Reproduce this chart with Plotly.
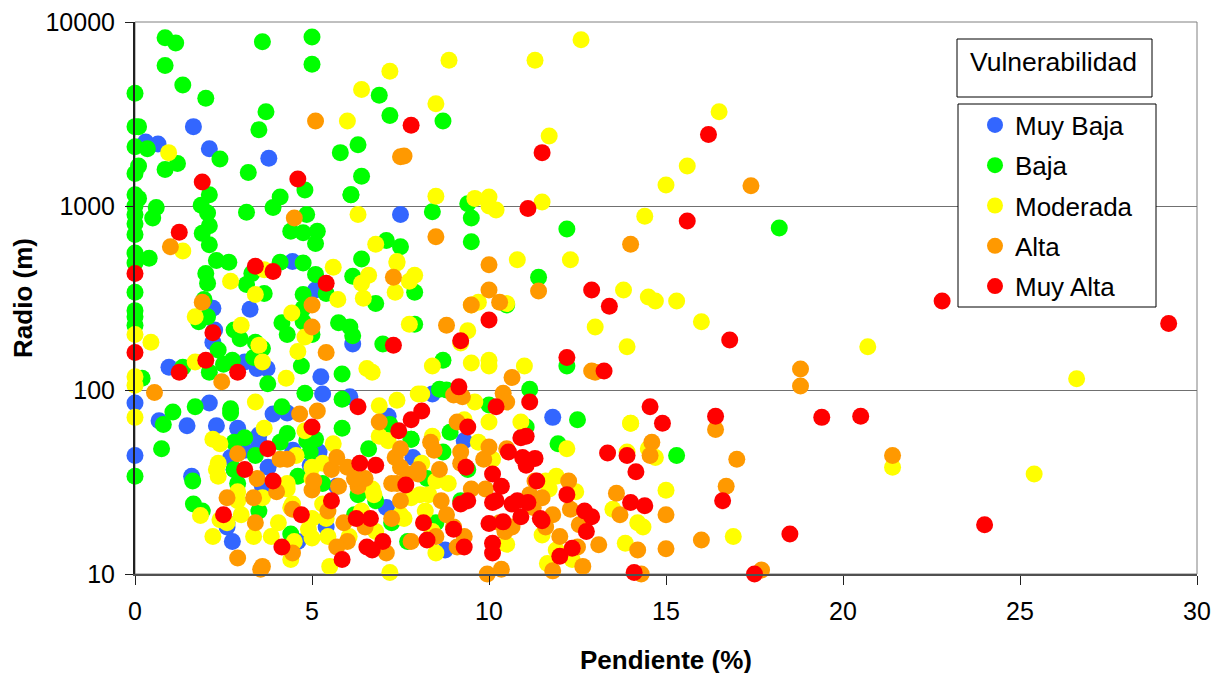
import plotly.graph_objects as go

muy_baja_x = [0.3,0.65,1.65,2.1,3.78,7.5,0,0,0.68,1.47,2.1,1.6,2.3,2.9,3.9,4.3,5.25,5.3,6.07,7.15,3.5,3.5,2.7,3.1,2.8,3.6,3.76,4.46,5.2,4.95,5.7,2.6,2.75,2.6,4.6,5.4,7.1,7.85,8.4,9.3,11.8,8.76,4.45,5.1,6.15,3.25,2.2,2.25,2.2,0.96,3.1,3.45,3.73]
muy_baja_y = [2230,2170,2700,2050,1820,900,85,44,68,64,85,34,64,62,74,75,118,95,92,72,57,52,43,47,37,30,38,47,46,39,30,18,15,19,15,18,23,43,95,53,71,13.5,500,350,178,275,278,212,182,133,142,131,131]

baja_x = [0.85,1.15,0.85,1.35,0,2,0,0.1,0,0.35,3.6,5,5,3.7,3.5,6.9,7.2,8.7,5.8,6.3,6.4,6.1,3.2,2.4,1.2,0.85,0.1,0,0,0.1,0,0,0,0,0,0.6,0.5,1.87,2.05,2.1,1.9,2.1,2.1,3.15,4.1,3.9,4.8,4.85,6.1,4.4,4.75,5.15,5.1,7.1,7.5,6.4,6.15,2,2.05,3.15,3.3,4.1,3.65,4.75,5.1,5.4,4.75,1.95,1.8,2.05,6.8,7.9,5.75,6.07,6.15,4.15,4.3,5,4.75,4.75,2.8,2.97,3.4,3.6,7,7.9,2.35,1.35,2.1,2.75,2.5,4.7,5.85,3.35,3.75,0.2,4.8,0,0.4,0,0,0,0,2.3,2.65,9.5,9.4,9.5,8.4,10.5,11.4,12.2,18.2,12.2,12.5,15.3,11.95,11.15,8.7,8.8,8.6,1.07,1.7,2.7,2.7,0.8,0.75,0,1.63,1.65,1.9,4.15,5.85,5.85,2.8,3.1,3.4,4.3,4.1,4.85,5.1,4.95,4.6,2.8,2.9,3.5,6.6,5.3,6.3,6.8,7.8,7.2,4.4,6.2,7.25,7.7,10,7.8,8.9,8.7,8.25,8.5,9.2,9.4,11.05]
baja_y = [8200,7700,5800,4550,4100,3850,2700,2700,2100,2050,7800,8300,5900,3250,2600,4000,3100,2900,1950,2150,1450,1150,1520,1800,1700,1580,1650,1500,1150,1100,1000,900,800,700,555,980,860,1010,915,780,710,615,1150,925,1120,980,1220,900,1150,730,715,730,625,650,600,515,415,430,380,375,430,495,335,490,425,335,330,310,235,250,295,340,232,220,197,232,200,200,235,278,212,190,182,168,178,228,165,133,125,145,138,135,122,150,108,116,96,490,520,340,270,250,225,505,495,640,1030,860,930,290,410,750,760,135,69,44,51,101,145,100,101,76,81,79,75,65,48,34,32,24,22,81,89,62,52,55,44,58,52,53,54,46,34,37,31,22,48,31,27,25,54,65,16.5,21,19,15,83,54,59,46,33,19,25,37,63]

moderada_x = [12.6,11.3,7.2,8.87,6.4,6,8.5,16.5,11.7,15.6,15,0.95,11.5,8.5,9.6,10,10,10.2,14.4,6.3,12.3,10.8,6.8,7.4,5.6,6.6,6.4,7.4,7.35,7.9,7.75,3.65,3.4,5.73,6.45,1.7,4.43,4.8,3,3.5,3.6,1.7,0,0.45,4.6,4.27,6.55,6.7,7.75,1.35,2.7,10.5,9.4,9.2,8.4,9.5,10,10,11,9.5,9.7,13,13.8,13.9,14.5,14.7,15.3,16,20.7,26.6,21.4,25.4,14,14.5,15,16.9,14.2,13.85,13.5,12.2,11.9,12.45,0,0,0,3.4,6.9,7.4,2.2,2.4,2.35,2.3,2.35,2.9,2.9,3.6,3,2.4,2.6,1.85,2.2,3.35,3.85,4.05,4.4,4.45,4.3,4.3,4.55,4.8,5,5.3,5,5.6,5.3,5,4.9,4.5,5,5.45,5.4,4.4,5.5,7.2,6.7,6.75,6.05,6.8,6.4,6.9,7.15,7.5,7.8,8,8.1,9.6,10,10.9,14,8.4,9.3,9.7,10.1,14.7,13.9,8.1,8.5,8.85,8.05,8.3,7.6,8.2,8.4,8.5,10.5,11.5,11.6,11.7,11.9,11.65,12.35,14.35,3.65]
moderada_y = [8000,6200,5400,6200,4300,2900,3600,3250,2400,1650,1300,1950,1050,1130,1100,1120,1000,950,880,900,510,510,620,500,465,420,380,490,340,420,390,450,330,310,315,250,262,194,225,175,142,142,200,182,162,116,131,125,228,570,390,295,210,180,135,140,145,135,135,290,300,220,350,172,320,305,305,235,172,115,38,35,66,48,28.5,16,19,14.7,22.5,48,34,28,118,106,71,86,82,88,54,51,40,37,34,28,25,26,21,19.7,19,20.8,16,16,16,19,23,24,31,29,44,60,38,40,33,51,24,20,17.5,15,15.7,16,20,12,11,10.2,29,27,16,17,22,56,53,21,26,95,95,86,67,67,66,56,69,52,42,43,46,40,32,31,27,27,20,22,17,13,14.5,16.3,32,29,13.5,11.4,12,18,62]

alta_x = [5.1,7.5,7.6,17.4,4.5,8.5,1,14,10,7.3,11.4,10.3,10,9.5,5,5,1.9,8.8,5.4,18.8,18.8,12.9,2.45,0.55,4.65,5.15,2.9,4.1,4.3,3.45,4,3.35,2.6,5,5.05,5.55,5.7,6,5.75,6.3,6.5,6.2,4.45,5.45,5.9,6,5.7,6.5,7.1,7.25,7.5,7.25,7.4,7.5,7.35,7.5,6.9,8,7.8,3.4,4.45,2.9,3.6,3.55,9,9.25,10.4,10.5,10.65,13,9.1,8.35,8.45,9.2,10,10.5,9.85,7.7,8,8.6,9.2,9.5,9.9,8.65,8.8,9,9.3,8.5,9.1,10.45,10.65,10.3,11.15,11.5,11.25,11.3,12.25,11.8,12.3,11.6,12.55,12,13.1,12.5,11.8,12.65,9.95,10.35,13.6,13.7,14.2,15,15,14.3,14.6,14.55,16,16.4,17,16.7,17.7,21.4]
alta_y = [2900,1850,1870,1290,860,680,600,620,480,410,345,300,350,290,290,220,300,225,160,130,105,127,111,97,74,77,45,42,42,33,28,26,26,28.6,32,37,43,38,30,30,33,33,22.5,22,19,15,14,18,13,20,25,31,31,38,43,48,67,35,15,19,13,12.2,11,10.6,94,92,96,86,117,125,67,52,47,46,49,48,42,35,37,37,40,29,29,25,21,18,16,16,14,17,18,19,27,26,23,32,32,21,22.5,18,18.5,16,14.4,14,10.4,11,10,10.6,27.5,21,13.5,13.7,21,10,52,44,15.3,61,42,30,10.5,44]

muy_alta_x = [7.8,16.2,11.5,1.9,4.6,11.1,15.6,1.25,3.4,0,3.9,5.4,12.9,13.4,22.8,29.2,16.8,10,9.2,7.3,2.2,2,0,1.25,2.9,13.25,12.2,9.15,10.2,11.15,6.3,5,7.45,7.8,8.1,3.75,3.1,3.9,6.35,6.8,7.65,5.55,4.7,2.5,6.25,6.65,4.15,5.85,6.55,6.7,7,8.15,8.25,9.4,10.55,9.35,10.1,10.35,10.9,11.05,10.95,11.3,11.05,11.35,12.2,10.2,10.1,9.2,9.4,10.65,10.8,11.1,10.9,11.45,11.5,10.4,10,9,9.3,10.1,10.1,12,12.35,12.7,12.9,12.75,13.35,13.9,14.15,14.55,14.9,14,14.4,14.1,16.4,16.6,17.5,18.5,19.4,20.5,24]
muy_alta_y = [2750,2450,1950,1350,1400,970,830,720,470,430,440,380,350,285,305,230,187,240,185,175,205,145,160,125,125,127,150,104,81,86,81,63,60,69,77,48,37,32,40,39,30.5,25,21,21,20,20,14,12,14,13.5,15,19,15.3,63,46,38,35,30,55,56,43,42.5,39,32,27,25,24.5,24,25,24,25,24.5,20.5,20,19.5,19.2,18.8,17.5,14,14.7,13,12.5,13.8,22,20.5,17,45.5,44,36,81,66,24.5,23.5,10.2,72,25,10,16.5,71,72,18.5]

series = ["Muy Baja", "Baja", "Moderada", "Alta", "Muy Alta"]
colors = ["#3366FF", "#00FF00", "#FFFF00", "#FF9900", "#FF0000"]
xs = [muy_baja_x, baja_x, moderada_x, alta_x, muy_alta_x]
ys = [muy_baja_y, baja_y, moderada_y, alta_y, muy_alta_y]
x_ticks = [0, 5, 10, 15, 20, 25, 30]
y_ticks = [10, 100, 1000, 10000]
assert all(len(a) == len(b) for a, b in zip(xs, ys)), [(len(a), len(b)) for a, b in zip(xs, ys)]

fig = go.Figure()
for name, color, x, y in zip(series, colors, xs, ys):
    fig.add_trace(go.Scatter(
        x=x, y=y, name=name, mode="markers", legendgroup=name,
        cliponaxis=False,
        marker=dict(color=color, size=17, line=dict(width=0)),
    ))

font = "Liberation Sans, Arial, sans-serif"
PW, PH = 1062, 552
def px(v): return (v - 135) / PW
def py(v): return (574 - v) / PH

fig.update_layout(
    width=1212, height=667, autosize=False,
    margin=dict(l=127, r=23, t=14, b=101, autoexpand=False),
    paper_bgcolor="white", plot_bgcolor="white",
    font=dict(family=font, size=25, color="black"),
    legend=dict(
        x=px(975), y=py(101.5), xanchor="left", yanchor="top",
        bgcolor="rgba(0,0,0,0)", borderwidth=0,
        font=dict(family=font, size=26), tracegroupgap=3.5, itemsizing="trace",
        itemwidth=30,
    ),
    shapes=[
        dict(type="rect", xref="paper", yref="paper", x0=0, x1=1, y0=0, y1=1,
             line=dict(color="#808080", width=1), layer="below"),
        dict(type="rect", xref="paper", yref="paper", x0=px(957), x1=px(1152), y0=py(97), y1=py(39),
             line=dict(color="black", width=1), fillcolor="white", layer="above"),
        dict(type="rect", xref="paper", yref="paper", x0=px(958), x1=px(1156), y0=py(307), y1=py(104),
             line=dict(color="black", width=1), fillcolor="white", layer="above"),
    ],
    annotations=[dict(
        text="Vulnerabilidad", xref="paper", yref="paper",
        x=px(1053.5), y=py(62), xanchor="center", yanchor="middle",
        showarrow=False, font=dict(family=font, size=26.5, color="black"),
    )],
    xaxis=dict(
        range=[0, 30], tickvals=x_ticks, showgrid=False, zeroline=False,
        showline=True, linecolor="#505050", linewidth=2, ticks="outside", ticklen=9, tickcolor="#202020",
        ticklabelstandoff=5, ticklabeloverflow="allow",
        tickfont=dict(family=font, size=25),
        title=dict(text="<b>Pendiente (%)</b>", font=dict(family=font, size=26), standoff=29),
    ),
    yaxis=dict(
        type="log", range=[1, 4], tickvals=y_ticks, tickformat="d",
        showgrid=True, gridcolor="#707070", gridwidth=1, zeroline=False,
        showline=True, linecolor="#202020", linewidth=2, ticks="outside", ticklen=8, tickcolor="#202020",
        ticklabelstandoff=5, ticklabeloverflow="allow",
        tickfont=dict(family=font, size=25),
        title=dict(text="<b>Radio (m)</b>", font=dict(family=font, size=26), standoff=5),
    ),
)
fig.write_html("out.html")
